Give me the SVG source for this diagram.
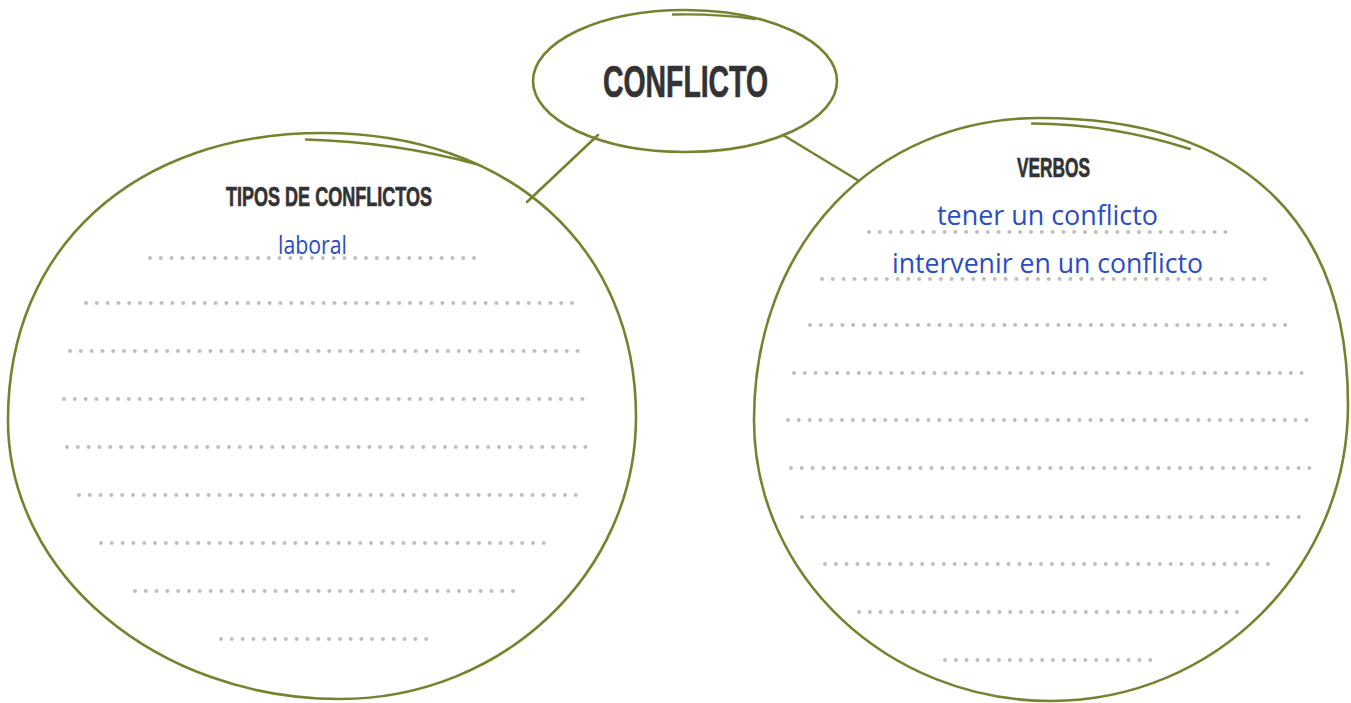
<svg xmlns="http://www.w3.org/2000/svg" width="1351" height="703" viewBox="0 0 1351 703">
<style>
.shape{fill:none;stroke:#74832d;stroke-width:2.6}
.flour{fill:none;stroke:#74832d;stroke-width:2.4;stroke-linecap:round}
.conn{fill:none;stroke:#74832d;stroke-width:2.6;stroke-linecap:round}
.head{font-family:"Liberation Sans",Arial,sans-serif;font-weight:bold;fill:#333333;stroke:#333333;stroke-width:0.7}
.hand{font-family:"Open Sans","Noto Sans",sans-serif;font-weight:400;fill:#2a4cc4}
.dots{stroke:#bebebe;stroke-width:4;stroke-linecap:round;stroke-dasharray:0 10.8;fill:none}
</style>
<rect width="1351" height="703" fill="#ffffff"/>
<g id="connectors">
<line class="conn" x1="598" y1="135" x2="527" y2="202"/>
<line class="conn" x1="783" y1="135" x2="859" y2="181"/>
</g>
<g id="node-conflicto">
<ellipse class="shape" cx="685" cy="81" rx="152" ry="71"/>
<path class="flour" d="M673,14.5 Q716,13.5 755,19"/>
<text class="head" x="603" y="97" font-size="45" textLength="165" lengthAdjust="spacingAndGlyphs">CONFLICTO</text>
</g>
<g id="node-tipos">
<path class="shape" d="M8,420 C8,248 134,133 322,133 C510,133 636,247 636,417 C636,573 503,699 340,699 C157,699 8,574 8,420 Z"/>
<path class="flour" d="M306,139.5 Q395,142 476,164"/>
<text class="head" x="226" y="206" font-size="28" textLength="206" lengthAdjust="spacingAndGlyphs">TIPOS DE CONFLICTOS</text>
<text class="hand" x="278" y="254" font-size="26" textLength="69" lengthAdjust="spacingAndGlyphs">laboral</text>
<line class="dots" x1="150" y1="258" x2="476" y2="258"/>
<line class="dots" x1="86" y1="303" x2="572" y2="303"/>
<line class="dots" x1="70" y1="351" x2="587" y2="351"/>
<line class="dots" x1="64" y1="399" x2="592" y2="399"/>
<line class="dots" x1="67" y1="447" x2="588" y2="447"/>
<line class="dots" x1="79" y1="495" x2="576" y2="495"/>
<line class="dots" x1="101" y1="543" x2="552" y2="543"/>
<line class="dots" x1="135" y1="591" x2="517" y2="591"/>
<line class="dots" x1="221" y1="639" x2="431" y2="639"/>
</g>
<g id="node-verbos">
<path class="shape" d="M754,420 C754,245 874,118 1040,118 C1240,118 1348,218 1348,405 C1348,568 1215,701 1051,701 C887,701 754,575 754,420 Z"/>
<path class="flour" d="M1032,123.5 Q1112,124 1190,149"/>
<text class="head" x="1017" y="177" font-size="27" textLength="73" lengthAdjust="spacingAndGlyphs">VERBOS</text>
<text class="hand" x="937" y="225" font-size="28" textLength="221" lengthAdjust="spacingAndGlyphs">tener un conflicto</text>
<text class="hand" x="892" y="273" font-size="28" textLength="311" lengthAdjust="spacingAndGlyphs">intervenir en un conflicto</text>
<line class="dots" x1="869" y1="232" x2="1227" y2="232"/>
<line class="dots" x1="822" y1="279" x2="1273" y2="279"/>
<line class="dots" x1="810" y1="325" x2="1296" y2="325"/>
<line class="dots" x1="794" y1="373" x2="1311" y2="373"/>
<line class="dots" x1="788" y1="420" x2="1317" y2="420"/>
<line class="dots" x1="791" y1="468" x2="1311" y2="468"/>
<line class="dots" x1="802" y1="517" x2="1300" y2="517"/>
<line class="dots" x1="825" y1="564" x2="1277" y2="564"/>
<line class="dots" x1="859" y1="612" x2="1241" y2="612"/>
<line class="dots" x1="945" y1="660" x2="1154" y2="660"/>
</g>
</svg>
